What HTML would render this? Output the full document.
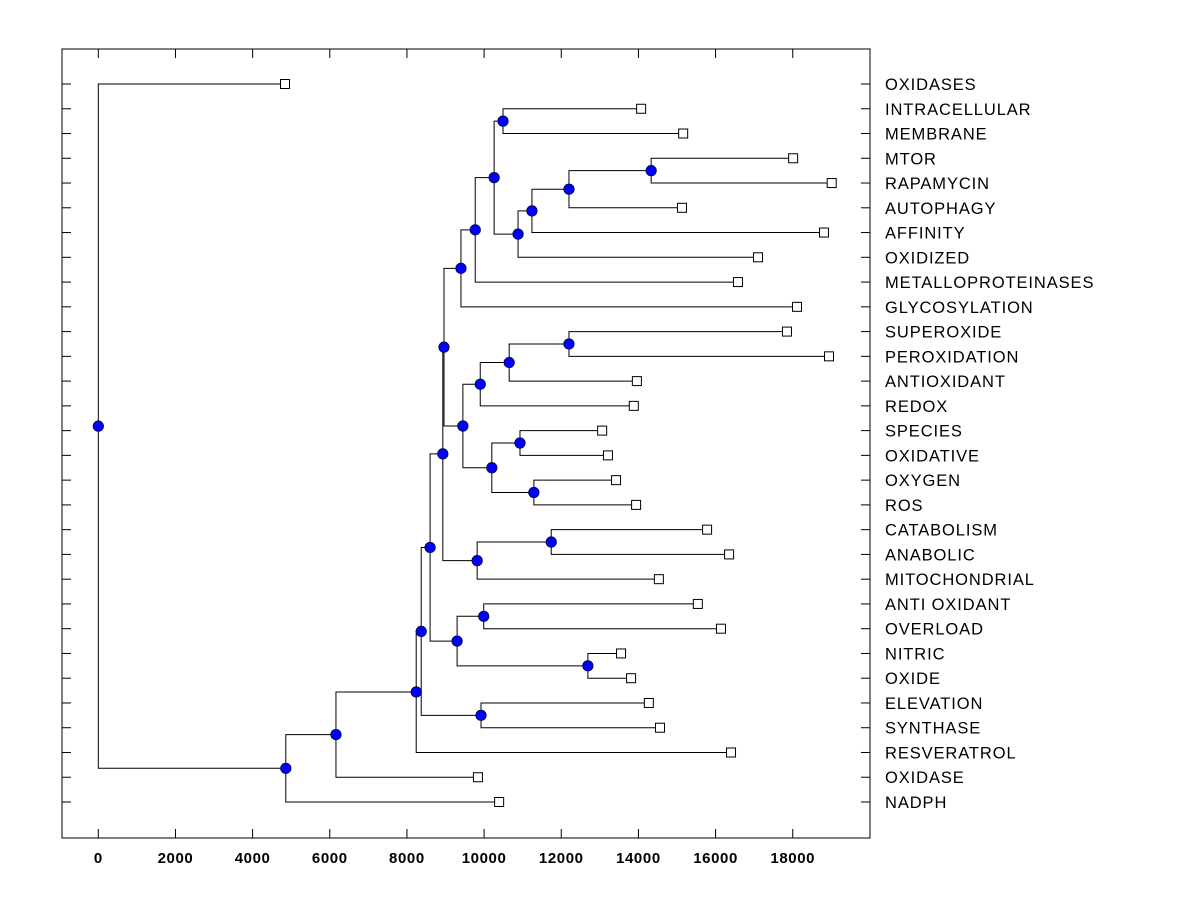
<!DOCTYPE html>
<html><head><meta charset="utf-8"><style>
html,body{margin:0;padding:0;background:#fff;}
svg{display:block;font-family:"Liberation Sans",Arial,sans-serif;}
</style></head><body>
<svg id="chart" width="1200" height="900" xmlns="http://www.w3.org/2000/svg"></svg>
<script>
const labels = ["OXIDASES","INTRACELLULAR","MEMBRANE","MTOR","RAPAMYCIN","AUTOPHAGY","AFFINITY","OXIDIZED","METALLOPROTEINASES","GLYCOSYLATION","SUPEROXIDE","PEROXIDATION","ANTIOXIDANT","REDOX","SPECIES","OXIDATIVE","OXYGEN","ROS","CATABOLISM","ANABOLIC","MITOCHONDRIAL","ANTI OXIDANT","OVERLOAD","NITRIC","OXIDE","ELEVATION","SYNTHASE","RESVERATROL","OXIDASE","NADPH"];
const leafValues = [4840,14070,15160,18010,19010,15130,18810,17100,16580,18110,17850,18940,13960,13880,13060,13210,13420,13940,15780,16350,14530,15540,16140,13550,13810,14270,14560,16400,9840,10390];
// merges: [childA, childB, height]; leaves 0..29, internal nodes 30+
const merges = [
 [1,2,10490],[3,4,14330],[31,5,12200],[32,6,11240],[33,7,10880],[30,34,10260],
 [35,8,9770],[36,9,9400],[10,11,12200],[38,12,10650],[39,13,9900],[14,15,10930],
 [16,17,11290],[41,42,10200],[40,43,9450],[37,44,8960],[18,19,11740],[46,20,9820],
 [45,47,8930],[21,22,9990],[23,24,12690],[49,50,9300],[25,26,9920],[48,51,8600],
 [53,52,8370],[54,27,8240],[55,28,6160],[56,29,4860],[0,57,0]
];
const xTicks = [0,2000,4000,6000,8000,10000,12000,14000,16000,18000];

const NS="http://www.w3.org/2000/svg";
const svg=document.getElementById('chart');
const L=62,T=49,R=870,B=838;
const x=v=>98.3+v*0.03858;
const y=i=>84+i*(802-84)/29;
function mk(tag,attrs,parent){const e=document.createElementNS(NS,tag);for(const k in attrs)e.setAttribute(k,attrs[k]);(parent||svg).appendChild(e);return e;}

const frame=mk('rect',{x:L,y:T,width:R-L,height:B-T,fill:'none',stroke:'#000','stroke-width':1});



xTicks.forEach(t=>{
  const px=x(t);
  const tb=mk('line',{x1:px,y1:B,x2:px,y2:B-9,stroke:'#000'});
  
  
  const tt=mk('line',{x1:px,y1:T,x2:px,y2:T+9,stroke:'#000'});
  
  
  const lb=mk('text',{x:px,y:863,'text-anchor':'middle','font-size':15,'font-weight':'bold','letter-spacing':0.6});
  lb.textContent=t;
  
  
});

labels.forEach((s,i)=>{
  const py=y(i);
  const a=mk('line',{x1:L,y1:py,x2:L+9,y2:py,stroke:'#000'});
  
  
  const b=mk('line',{x1:R-9,y1:py,x2:R,y2:py,stroke:'#000'});
  
  
  const t=mk('text',{x:885,y:py+6,'font-size':16.5,'letter-spacing':0.9});
  t.textContent=s;
  
  
});

const posY=[],posX=[];
labels.forEach((s,i)=>{posY[i]=y(i);posX[i]=x(leafValues[i]);});
const dots=[];
merges.forEach((m,k)=>{
  const id=labels.length+k;
  const [a,b,h]=m;
  const nx=x(h);
  posX[id]=nx;posY[id]=(posY[a]+posY[b])/2;
  const p=mk('path',{d:`M${posX[a]},${posY[a]}H${nx}V${posY[b]}H${posX[b]}`,fill:'none',stroke:'#000','stroke-width':1});
  
  
  dots.push([nx,posY[id]]);
});
labels.forEach((s,i)=>{
  const r=mk('rect',{x:posX[i]-4.5,y:posY[i]-4.5,width:9,height:9,fill:'#fff',stroke:'#000'});
  
  
});
dots.forEach(d=>{
  const c=mk('circle',{cx:d[0],cy:d[1],r:5.2,fill:'#0000ff',stroke:'#000040','stroke-width':0.8});
  
  
});
</script>
</body></html>
